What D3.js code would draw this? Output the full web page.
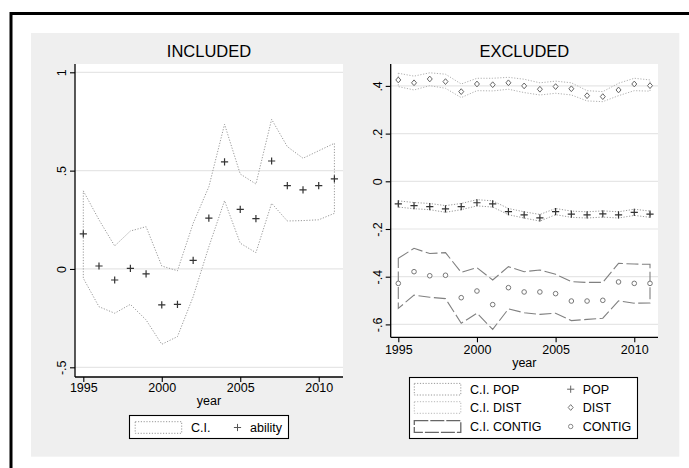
<!DOCTYPE html>
<html>
<head>
<meta charset="utf-8">
<script src="https://cdn.jsdelivr.net/npm/d3@7"></script>
<style>
  body { margin: 0; background: #fff; }
  text { font-family: "Liberation Sans", Arial, sans-serif; fill: #000; }
</style>
</head>
<body>
<div id="chart"></div>
<script>
// years on the x axis
var years = [1995, 1996, 1997, 1998, 1999, 2000, 2001, 2002, 2003, 2004, 2005, 2006, 2007, 2008, 2009, 2010, 2011];
var xTicks = [1995, 2000, 2005, 2010];

// INCLUDED panel
var ability   = [0.178, 0.015, -0.056, 0.003, -0.025, -0.183, -0.180, 0.044, 0.259, 0.545, 0.303, 0.256, 0.549, 0.424, 0.402, 0.424, 0.458];
var abilityHi = [0.397, 0.250, 0.117, 0.193, 0.215, 0.015, -0.009, 0.232, 0.418, 0.736, 0.483, 0.432, 0.761, 0.622, 0.563, 0.601, 0.639];
var abilityLo = [-0.047, -0.192, -0.225, -0.180, -0.259, -0.383, -0.344, -0.141, 0.113, 0.347, 0.131, 0.083, 0.334, 0.244, 0.246, 0.250, 0.283];
var leftTicks  = [-0.5, 0, 0.5, 1];
var leftLabels = ["-.5", "0", ".5", "1"];

// EXCLUDED panel
var pop   = [-0.095, -0.102, -0.106, -0.116, -0.106, -0.090, -0.095, -0.127, -0.141, -0.153, -0.127, -0.138, -0.141, -0.137, -0.141, -0.130, -0.138];
var popHi = [-0.082, -0.089, -0.093, -0.102, -0.093, -0.077, -0.082, -0.114, -0.128, -0.139, -0.114, -0.125, -0.128, -0.124, -0.128, -0.117, -0.125];
var popLo = [-0.108, -0.115, -0.119, -0.130, -0.119, -0.103, -0.108, -0.140, -0.154, -0.167, -0.140, -0.151, -0.154, -0.150, -0.154, -0.143, -0.151];
var dist   = [0.425, 0.413, 0.429, 0.418, 0.376, 0.408, 0.405, 0.413, 0.400, 0.386, 0.397, 0.388, 0.359, 0.355, 0.383, 0.408, 0.401];
var distHi = [0.453, 0.441, 0.455, 0.449, 0.408, 0.432, 0.432, 0.436, 0.428, 0.413, 0.420, 0.413, 0.380, 0.376, 0.411, 0.432, 0.425];
var distLo = [0.397, 0.383, 0.401, 0.390, 0.351, 0.380, 0.379, 0.386, 0.372, 0.362, 0.369, 0.362, 0.337, 0.334, 0.359, 0.380, 0.378];
var contig   = [-0.428, -0.379, -0.396, -0.394, -0.488, -0.460, -0.517, -0.446, -0.464, -0.464, -0.471, -0.502, -0.502, -0.499, -0.422, -0.428, -0.428];
var contigHi = [-0.323, -0.281, -0.303, -0.299, -0.382, -0.362, -0.414, -0.358, -0.379, -0.372, -0.390, -0.421, -0.424, -0.424, -0.344, -0.347, -0.348];
var contigLo = [-0.533, -0.477, -0.486, -0.492, -0.595, -0.553, -0.621, -0.535, -0.551, -0.558, -0.553, -0.584, -0.579, -0.574, -0.501, -0.511, -0.510];
var rightTicks  = [-0.6, -0.4, -0.2, 0, 0.2, 0.4];
var rightLabels = ["-.6", "-.4", "-.2", "0", ".2", ".4"];

var svg = d3.select("#chart").append("svg")
  .attr("width", 689)
  .attr("height", 468);

// outer frame + grey graph region
svg.append("rect").attr("x", 11).attr("y", 13.5).attr("width", 700).attr("height", 480)
  .attr("fill", "#fff").attr("stroke", "#000").attr("stroke-width", 3);
svg.append("rect").attr("x", 31).attr("y", 33).attr("width", 648.3).attr("height", 423.7)
  .attr("fill", "#efefef");

var plusPath = "M-3.6,0H3.6M0,-3.6V3.6";
var diamondPath = "M0,-2.9L2.5,0L0,2.9L-2.5,0Z";

function drawPanel(o) {
  var x = d3.scaleLinear().domain([1995, 2011]).range(o.xr);
  var y = d3.scaleLinear().domain(o.yd).range(o.yr);
  var g = svg.append("g");

  g.append("rect")
    .attr("x", o.box[0]).attr("y", o.box[1])
    .attr("width", o.box[2] - o.box[0]).attr("height", o.box[3] - o.box[1])
    .attr("fill", "#fff");

  // grid
  g.selectAll(".grid").data(o.ticks).enter().append("line")
    .attr("x1", o.box[0]).attr("x2", o.box[2])
    .attr("y1", function(d) { return y(d); }).attr("y2", function(d) { return y(d); })
    .attr("stroke", "#e6e6e6").attr("stroke-width", 1.2);

  // y axis
  var yAxis = d3.axisLeft(y).tickValues(o.ticks).tickSize(5).tickPadding(4)
    .tickFormat(function(d, i) { return o.labels[i]; });
  var ya = g.append("g").attr("transform", "translate(" + o.box[0] + ",0)").call(yAxis);
  ya.select(".domain").attr("d", "M0," + o.box[1] + "V" + o.box[3]).attr("stroke-width", 1.3);
  ya.selectAll(".tick line").attr("stroke-width", 1.1);
  ya.selectAll(".tick text")
    .attr("x", null).attr("dy", null)
    .attr("text-anchor", "middle")
    .attr("transform", "translate(-9,0) rotate(-90)")
    .style("font-size", "12.5px").style("font-family", "Liberation Sans, Arial, sans-serif");

  // x axis
  var xAxis = d3.axisBottom(x).tickValues(xTicks).tickSize(5).tickPadding(4).tickFormat(d3.format("d"));
  var xa = g.append("g").attr("transform", "translate(0," + o.box[3] + ")").call(xAxis);
  xa.select(".domain").attr("d", "M" + o.box[0] + ",0H" + o.box[2]).attr("stroke-width", 1.3);
  xa.selectAll(".tick line").attr("stroke-width", 1.1);
  xa.selectAll(".tick text").attr("y", o.xLabelOff).attr("dy", null)
    .style("font-size", "12.5px").style("font-family", "Liberation Sans, Arial, sans-serif");

  g.append("text").attr("x", (o.box[0] + o.box[2]) / 2).attr("y", o.box[3] + o.xLabelOff + 13)
    .attr("text-anchor", "middle").style("font-size", "12.5px").text("year");

  g.append("text").attr("x", (o.box[0] + o.box[2]) / 2).attr("y", 57)
    .attr("text-anchor", "middle").style("font-size", "16.5px").text(o.title);

  o.series.forEach(function(s) {
    var area = d3.area()
      .x(function(d, i) { return x(years[i]); })
      .y0(function(d, i) { return y(s.lo[i]); })
      .y1(function(d, i) { return y(s.hi[i]); });
    g.append("path").datum(s.mid)
      .attr("d", area)
      .attr("fill", "none")
      .attr("stroke", s.ciColor)
      .attr("stroke-width", s.ciWidth)
      .attr("stroke-dasharray", s.dash);

    var pts = g.selectAll(null).data(s.mid).enter().append("g")
      .attr("transform", function(d, i) { return "translate(" + x(years[i]) + "," + y(d) + ")"; });
    if (s.symbol === "circle") {
      pts.append("circle").attr("r", 2.3).attr("fill", "#fff").attr("stroke", s.color).attr("stroke-width", 1);
    } else {
      pts.append("path").attr("d", s.symbol === "plus" ? plusPath : diamondPath)
        .attr("fill", s.symbol === "plus" ? "none" : "#fff")
        .attr("stroke", s.color).attr("stroke-width", s.symbol === "plus" ? 1.2 : 1);
    }
  });
}

drawPanel({
  title: "INCLUDED",
  xr: [83.3, 334.4], yd: [-0.5, 1], yr: [367.3, 72.3],
  box: [75, 64, 343, 377], xLabelOff: 14.5,
  ticks: leftTicks, labels: leftLabels,
  series: [
    { mid: ability, hi: abilityHi, lo: abilityLo, symbol: "plus", color: "#333",
      ciColor: "#999", ciWidth: 1, dash: "1.2,1.6" }
  ]
});

drawPanel({
  title: "EXCLUDED",
  xr: [398.3, 650], yd: [-0.6, 0.4], yr: [324.4, 85.9],
  box: [390.7, 64, 658, 337.3], xLabelOff: 16.7,
  ticks: rightTicks, labels: rightLabels,
  series: [
    { mid: pop, hi: popHi, lo: popLo, symbol: "plus", color: "#333",
      ciColor: "#999", ciWidth: 1, dash: "1.2,1.6" },
    { mid: dist, hi: distHi, lo: distLo, symbol: "diamond", color: "#666",
      ciColor: "#b0b0b0", ciWidth: 1, dash: "1.2,1.6" },
    { mid: contig, hi: contigHi, lo: contigLo, symbol: "circle", color: "#777",
      ciColor: "#808080", ciWidth: 1.1, dash: "12,3.5" }
  ]
});

// legends
function legendBox(x0, y0, w, h) {
  svg.append("rect").attr("x", x0).attr("y", y0).attr("width", w).attr("height", h)
    .attr("fill", "#fff").attr("stroke", "#000").attr("stroke-width", 1.1);
}
function swatch(x0, yc, color, width, dash) {
  svg.append("rect").attr("x", x0).attr("y", yc - 5.8).attr("width", 46.5).attr("height", 11.6)
    .attr("fill", "#fff").attr("stroke", color).attr("stroke-width", width).attr("stroke-dasharray", dash);
}
function legendSymbol(cx, cy, kind, color) {
  if (kind === "circle") {
    svg.append("circle").attr("cx", cx).attr("cy", cy).attr("r", 2.2)
      .attr("fill", "#fff").attr("stroke", color);
  } else {
    svg.append("path").attr("transform", "translate(" + cx + "," + cy + ")")
      .attr("d", kind === "plus" ? plusPath : diamondPath)
      .attr("fill", kind === "plus" ? "none" : "#fff").attr("stroke", color).attr("stroke-width", 1);
  }
}
function legendText(x0, yc, str) {
  svg.append("text").attr("x", x0).attr("y", yc + 4.5).style("font-size", "12.5px").text(str);
}

legendBox(129.5, 415.5, 159, 23);
swatch(135.2, 427.5, "#999", 1, "1.2,1.6");
legendText(191, 427.5, "C.I.");
legendSymbol(237.5, 427.5, "plus", "#555");
legendText(250, 427.5, "ability");

var legRows = [389.2, 407.5, 426.5];
var ciNames = ["C.I. POP", "C.I. DIST", "C.I. CONTIG"];
var seriesNames = ["POP", "DIST", "CONTIG"];
var legStyles = [
  { c: "#999", w: 1, d: "1.2,1.6", s: "plus", sc: "#666" },
  { c: "#b8b8b8", w: 1, d: "1.2,1.6", s: "diamond", sc: "#777" },
  { c: "#666", w: 1.3, d: "14,2", s: "circle", sc: "#888" }
];
legendBox(409.5, 377.5, 228, 61);
legRows.forEach(function(yc, i) {
  swatch(414.3, yc, legStyles[i].c, legStyles[i].w, legStyles[i].d);
  legendText(470, yc, ciNames[i]);
  legendSymbol(570.7, yc, legStyles[i].s, legStyles[i].sc);
  legendText(582.7, yc, seriesNames[i]);
});
</script>
</body>
</html>
